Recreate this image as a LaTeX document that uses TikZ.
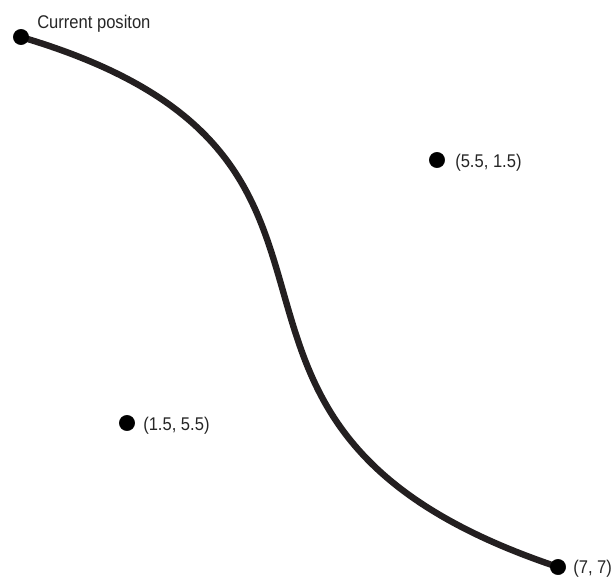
\documentclass[tikz,border=0pt]{standalone}
\usepackage{fontspec}
\setmainfont[FakeStretch=0.9]{Liberation Sans}
\definecolor{curvecol}{HTML}{231F20}
\begin{document}
\begin{tikzpicture}[x=0.75pt,y=-0.75pt,
  dot/.style={circle,fill=black,draw=black,inner sep=0pt,minimum size=11.5pt},
  lbl/.style={anchor=base west,inner sep=0pt,text=black!85,font=\fontsize{13.8pt}{15pt}\selectfont},
  path/.style={draw=curvecol,line width=4.8pt,line cap=round}]
\useasboundingbox (0,0) rectangle (616,579);
\coordinate (cur) at (21,37);
\coordinate (p1) at (437,160);
\coordinate (p2) at (127,423);
\coordinate (fin) at (558,567);
\draw[path] (cur) .. controls (p1) and (p2) .. (fin);
\node[dot] (dcur) at (cur) {};
\node[dot] (dp1) at (p1) {};
\node[dot] (dp2) at (p2) {};
\node[dot] (dfin) at (fin) {};
\node[lbl] (tcur) at (37,28) {Current positon};
\node[lbl] (tp1) at (455,167) {(5.5, 1.5)};
\node[lbl] (tp2) at (143,430) {(1.5, 5.5)};
\node[lbl] (tfin) at (573,573) {(7, 7)};
\end{tikzpicture}
\end{document}
